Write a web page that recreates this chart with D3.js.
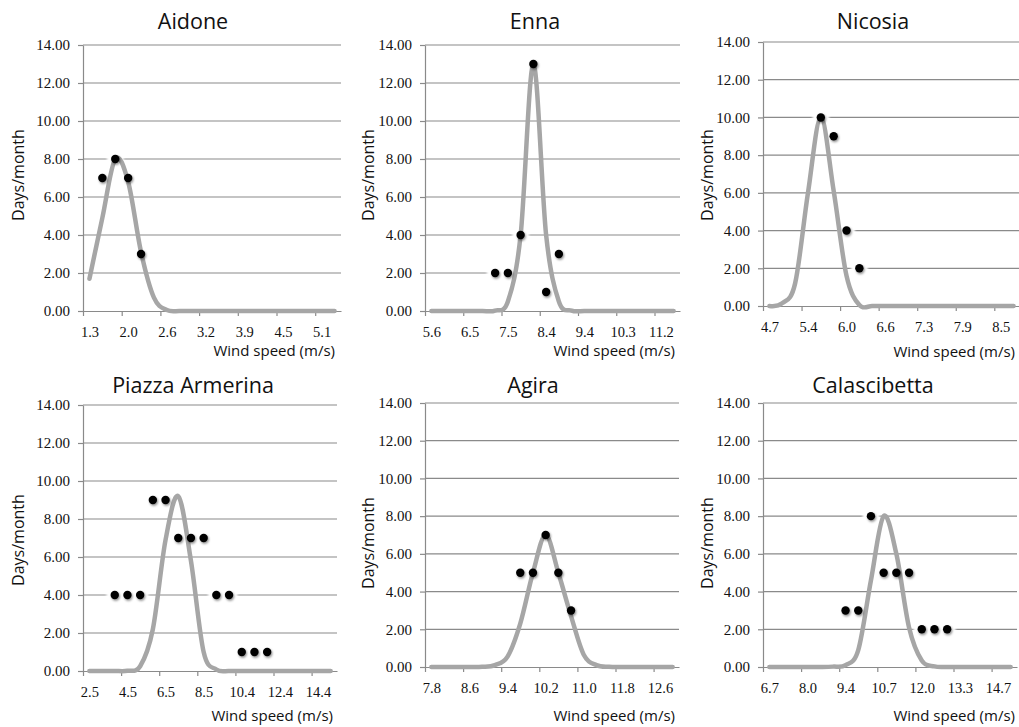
<!DOCTYPE html>
<html>
<head>
<meta charset="utf-8">
<script src="https://cdn.jsdelivr.net/npm/d3@7"></script>
<style>
  body { margin: 0; background: #fff; }
  svg { display: block; }
</style>
</head>
<body>
<svg id="chart" width="1019" height="727"></svg>
<script>
// ---- data ----
const stations = ["Aidone", "Enna", "Nicosia", "Piazza Armerina", "Agira", "Calascibetta"];

// tick labels, one every 3 categories
const xTickLabels = [
  ["1.3", "2.0", "2.6", "3.2", "3.9", "4.5", "5.1"],
  ["5.6", "6.5", "7.5", "8.4", "9.4", "10.3", "11.2"],
  ["4.7", "5.4", "6.0", "6.6", "7.3", "7.9", "8.5"],
  ["2.5", "4.5", "6.5", "8.5", "10.4", "12.4", "14.4"],
  ["7.8", "8.6", "9.4", "10.2", "11.0", "11.8", "12.6"],
  ["6.7", "8.0", "9.4", "10.7", "12.0", "13.3", "14.7"],
];

const yTicks = [0, 2, 4, 6, 8, 10, 12, 14];

// fitted curve, one value per category (20 categories)
const curveValues = [
  [1.7, 4.9, 8.0, 6.8, 3.1, 0.7, 0.05, 0, 0, 0, 0, 0, 0, 0, 0, 0, 0, 0, 0, 0],
  [0, 0, 0, 0, 0, 0.02, 0.5, 4.0, 13.0, 4.0, 0.5, 0.02, 0, 0, 0, 0, 0, 0, 0, 0],
  [0, 0.15, 1.2, 6.0, 10.0, 6.1, 1.6, 0.05, 0, 0, 0, 0, 0, 0, 0, 0, 0, 0, 0, 0],
  [0, 0, 0, 0.01, 0.25, 2.2, 6.9, 9.2, 5.8, 1.0, 0.08, 0, 0, 0, 0, 0, 0, 0, 0, 0],
  [0, 0, 0, 0, 0.01, 0.1, 0.55, 2.3, 5.0, 7.0, 5.0, 2.7, 0.65, 0.1, 0.01, 0, 0, 0, 0, 0],
  [0, 0, 0, 0, 0, 0.02, 0.1, 0.9, 4.6, 8.0, 6.0, 2.1, 0.35, 0.03, 0, 0, 0, 0, 0, 0],
];

// observed days/month, at category index
const dotCategories = [
  [1, 2, 3, 4],
  [5, 6, 7, 8, 9, 10],
  [4, 5, 6, 7],
  [2, 3, 4, 5, 6, 7, 8, 9, 10, 11, 12, 13, 14],
  [7, 8, 9, 10, 11],
  [6, 7, 8, 9, 10, 11, 12, 13, 14],
];
const dotValues = [
  [7, 8, 7, 3],
  [2, 2, 4, 13, 1, 3],
  [10, 9, 4, 2],
  [4, 4, 4, 9, 9, 7, 7, 7, 4, 4, 1, 1, 1],
  [5, 5, 7, 5, 3],
  [3, 3, 8, 5, 5, 5, 2, 2, 2],
];

// ---- layout ----
const nCats = 20;
const panels = [
  { left: 83, right: 341, top: 45, bottom: 311, tx: 193, ty: 29, ytx: 18, yty: 175, xtx: 335, xty: 356 },
  { left: 425, right: 680, top: 45, bottom: 311, tx: 535, ty: 29, ytx: 368, yty: 175, xtx: 675, xty: 356 },
  { left: 763, right: 1020, top: 42, bottom: 306, tx: 873, ty: 29, ytx: 707, yty: 175, xtx: 1015, xty: 357 },
  { left: 83, right: 337, top: 405, bottom: 671, tx: 193, ty: 393, ytx: 18, yty: 540, xtx: 333, xty: 721 },
  { left: 425, right: 679, top: 403, bottom: 667, tx: 533, ty: 393, ytx: 368, yty: 543, xtx: 675, xty: 721 },
  { left: 763, right: 1017, top: 403, bottom: 667, tx: 873, ty: 393, ytx: 707, yty: 543, xtx: 1015, xty: 721 },
];

const gridColor = "#8a8a8a";
const curveColor = "#a6a6a6";
const serif = "'Times New Roman', 'Liberation Serif', 'DejaVu Serif', serif";
const sans = "'Open Sans', 'Noto Sans', sans-serif";

const svg = d3.select("#chart");

// 点的阴影和白色光晕
const defs = svg.append("defs");
defs.append("filter")
  .attr("id", "dotShadow")
  .attr("x", "-100%").attr("y", "-100%")
  .attr("width", "300%").attr("height", "300%")
  .append("feDropShadow")
  .attr("dx", 1).attr("dy", 1.5)
  .attr("stdDeviation", 1.2)
  .attr("flood-color", "#000")
  .attr("flood-opacity", 0.45);
defs.append("filter")
  .attr("id", "halo")
  .attr("x", "-50%").attr("y", "-50%")
  .attr("width", "200%").attr("height", "200%")
  .append("feGaussianBlur")
  .attr("stdDeviation", 1);

stations.forEach((name, i) => drawPanel(i));

function drawPanel(i) {
  const p = panels[i];
  const g = svg.append("g").attr("class", `panel panel-${i}`);

  const x = d3.scaleLinear().domain([0, nCats]).range([p.left, p.right]);
  const y = d3.scaleLinear().domain([0, 14]).range([p.bottom, p.top]);
  const catW = x(1) - x(0);

  // 网格线
  g.append("g")
    .selectAll("line")
    .data(yTicks.filter((v) => v > 0))
    .join("line")
    .attr("x1", p.left)
    .attr("x2", p.right)
    .attr("y1", (d) => y(d))
    .attr("y2", (d) => y(d))
    .attr("stroke", gridColor)
    .attr("stroke-width", 1.2);

  // y 轴
  const yAxisG = g.append("g")
    .attr("transform", `translate(${p.left},0)`)
    .call(
      d3.axisLeft(y)
        .tickValues(yTicks)
        .tickFormat(d3.format(".2f"))
        .tickSize(5)
        .tickSizeOuter(0)
        .tickPadding(8)
    );
  yAxisG.attr("font-family", serif);
  yAxisG.select(".domain").attr("stroke", gridColor).attr("stroke-width", 1.2);
  yAxisG.selectAll(".tick line").attr("stroke", gridColor).attr("stroke-width", 1.2);
  yAxisG.selectAll(".tick text")
    .style("font-family", serif)
    .attr("font-size", 15)
    .attr("fill", "#111");

  // x 轴：刻度在类别边界，标签在类别中间
  const tickIdx = xTickLabels[i].map((_, k) => k * 3);
  const xAxisG = g.append("g")
    .attr("transform", `translate(0,${p.bottom})`)
    .call(
      d3.axisBottom(x)
        .tickValues(tickIdx)
        .tickFormat((d, k) => xTickLabels[i][k])
        .tickSize(5)
        .tickSizeOuter(0)
    );
  xAxisG.attr("font-family", serif);
  xAxisG.select(".domain").attr("stroke", gridColor).attr("stroke-width", 1.2);
  xAxisG.selectAll(".tick line").attr("stroke", gridColor).attr("stroke-width", 1.2);
  xAxisG.selectAll(".tick text")
    .style("font-family", serif)
    .attr("x", catW / 2)
    .attr("y", 25.5)
    .attr("dy", 0)
    .attr("font-size", 14.5)
    .attr("fill", "#111");

  const dots = dotCategories[i].map((c, k) => ({ c, v: dotValues[i][k] }));

  // 白色光晕（盖住网格线）
  g.append("g")
    .selectAll("circle")
    .data(dots)
    .join("circle")
    .attr("cx", (d) => x(d.c + 0.5))
    .attr("cy", (d) => y(d.v))
    .attr("r", 8.5)
    .attr("fill", "#fff")
    .attr("filter", "url(#halo)");

  // 平滑曲线
  const line = d3.line()
    .x((d, k) => x(k + 0.5))
    .y((d) => y(d))
    .curve(d3.curveCardinal.tension(0));
  g.append("path")
    .datum(curveValues[i])
    .attr("d", line)
    .attr("fill", "none")
    .attr("stroke", curveColor)
    .attr("stroke-width", 4.5)
    .attr("stroke-linejoin", "round")
    .attr("stroke-linecap", "round");

  // 数据点
  g.append("g")
    .selectAll("circle")
    .data(dots)
    .join("circle")
    .attr("cx", (d) => x(d.c + 0.5))
    .attr("cy", (d) => y(d.v))
    .attr("r", 4.2)
    .attr("fill", "#050505")
    .attr("filter", "url(#dotShadow)");

  // 标题
  g.append("text")
    .attr("x", p.tx)
    .attr("y", p.ty)
    .attr("text-anchor", "middle")
    .attr("font-family", sans)
    .attr("font-size", 21.5)
    .attr("fill", "#111")
    .text(stations[i]);

  // y 轴标题
  g.append("text")
    .attr("transform", `translate(${p.ytx},${p.yty}) rotate(-90)`)
    .attr("dy", "0.35em")
    .attr("text-anchor", "middle")
    .attr("font-family", sans)
    .attr("font-size", 16)
    .attr("fill", "#111")
    .text("Days/month");

  // x 轴标题
  g.append("text")
    .attr("x", p.xtx)
    .attr("y", p.xty)
    .attr("text-anchor", "end")
    .attr("font-family", sans)
    .attr("font-size", 15)
    .attr("fill", "#111")
    .text("Wind speed (m/s)");
}
</script>
</body>
</html>
